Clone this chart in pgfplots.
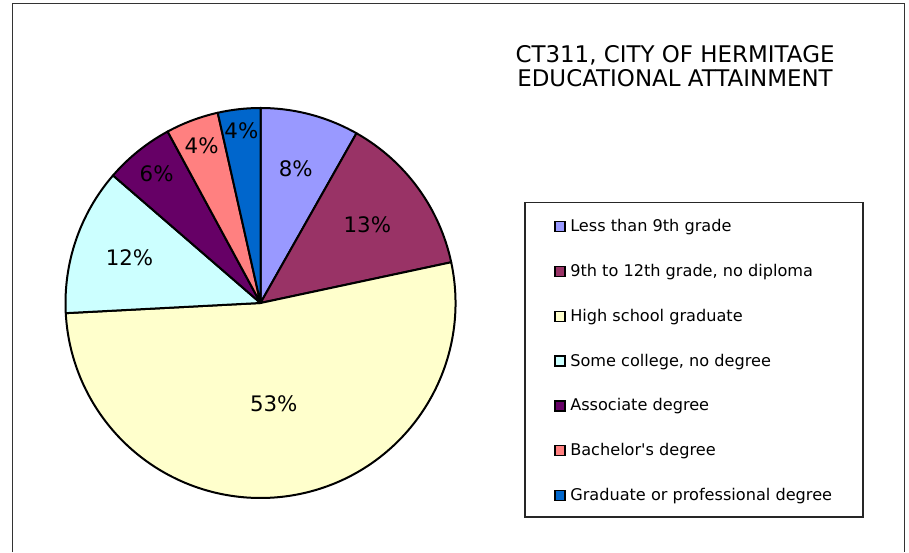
\documentclass[border=0pt]{standalone}
\usepackage{fontspec}
\setmainfont{DejaVu Sans}
\usepackage{pgfplots}
\usepackage{pgfplotstable}
\pgfplotsset{compat=1.18}

\definecolor{c0}{HTML}{9999FF}
\definecolor{c1}{HTML}{993366}
\definecolor{c2}{HTML}{FFFFCC}
\definecolor{c3}{HTML}{CCFFFF}
\definecolor{c4}{HTML}{660066}
\definecolor{c5}{HTML}{FF8080}
\definecolor{c6}{HTML}{0066CC}

\pgfplotstableread{
value lr name
8.19  0.71 {Less than 9th grade}
13.46 0.68 {9th to 12th grade, no diploma}
52.52 0.52 {High school graduate}
12.18 0.71 {Some college, no degree}
5.75  0.85 {Associate degree}
4.38  0.86 {Bachelor\textquotesingle s degree}
3.52  0.89 {Graduate or professional degree}
}\datatable

% pie geometry (pixel units of the 909x552 picture, y upward)
\def\cx{260.5}
\def\cy{249}
\def\R{195}

\gdef\cum{0}
\foreach \i in {0,...,6}{%
  \pgfplotstablegetelem{\i}{value}\of\datatable
  \let\v\pgfplotsretval
  \pgfplotstablegetelem{\i}{lr}\of\datatable
  \let\lr\pgfplotsretval
  \pgfmathsetmacro\sa{90-3.6*\cum}%
  \pgfmathsetmacro\ea{90-3.6*(\cum+\v)}%
  \pgfmathsetmacro\ma{(\sa+\ea)/2}%
  \pgfmathsetmacro\lx{\cx+\R*\lr*cos(\ma)}%
  \pgfmathsetmacro\ly{\cy+\R*\lr*sin(\ma)}%
  \pgfmathtruncatemacro\pc{round(\v)}%
  \pgfmathsetmacro\lgy{320.3-44.8*\i}%
  \pgfmathsetmacro\newcum{\cum+\v}%
  \expandafter\xdef\csname sa\i\endcsname{\sa}%
  \expandafter\xdef\csname ea\i\endcsname{\ea}%
  \expandafter\xdef\csname lx\i\endcsname{\lx}%
  \expandafter\xdef\csname ly\i\endcsname{\ly}%
  \expandafter\xdef\csname pc\i\endcsname{\pc}%
  \expandafter\xdef\csname lgy\i\endcsname{\lgy}%
  \pgfplotstablegetelem{\i}{name}\of\datatable
  \expandafter\global\expandafter\let\csname nm\i\endcsname\pgfplotsretval
  \xdef\cum{\newcum}%
}

\begin{document}
\begin{tikzpicture}
\begin{axis}[
  x=0.75pt, y=0.75pt,
  xmin=0, xmax=909, ymin=0, ymax=552,
  hide axis, clip=false,
]
% picture extent
\path (axis cs:0,0) rectangle (axis cs:909,552);
% outer frame
\draw[black!80, line width=1pt] (axis cs:12.8,0) -- (axis cs:12.8,548.7) -- (axis cs:904.3,548.7) -- (axis cs:904.3,0);

% pie slices
\pgfplotsinvokeforeach{0,...,6}{
  \filldraw[fill=c#1, draw=black, line width=1.5pt, line join=round]
    (axis cs:\cx,\cy) -- ([shift={(\csname sa#1\endcsname:146.25pt)}]axis cs:\cx,\cy)
    arc[start angle=\csname sa#1\endcsname, end angle=\csname ea#1\endcsname, radius=146.25pt] -- cycle;
}
% pie labels
\pgfplotsinvokeforeach{0,...,6}{
  \node[font=\fontsize{16}{19}\selectfont, anchor=center, inner sep=0pt]
    at (axis cs:\csname lx#1\endcsname,\csname ly#1\endcsname) {\csname pc#1\endcsname\%};
}

% title
\node[anchor=base, font=\fontsize{17.2}{20}\selectfont] at (axis cs:675,489.3) {CT311, CITY OF HERMITAGE};
\node[anchor=base, font=\fontsize{17.2}{20}\selectfont] at (axis cs:675,465.3) {EDUCATIONAL ATTAINMENT};

% legend
\draw[black!85, line width=0.8pt] (axis cs:525,35) rectangle (axis cs:863,349.5);
\pgfplotsinvokeforeach{0,...,6}{
  \filldraw[fill=c#1, draw=black, line width=1.1pt]
    (axis cs:555,\csname lgy#1\endcsname) rectangle ([xshift=7.5pt,yshift=7.5pt]axis cs:555,\csname lgy#1\endcsname);
  \node[anchor=base west, inner sep=0pt, font=\fontsize{12.1}{14}\selectfont]
    at (axis cs:570,\csname lgy#1\endcsname) {\csname nm#1\endcsname};
}
\end{axis}
\end{tikzpicture}
\end{document}
